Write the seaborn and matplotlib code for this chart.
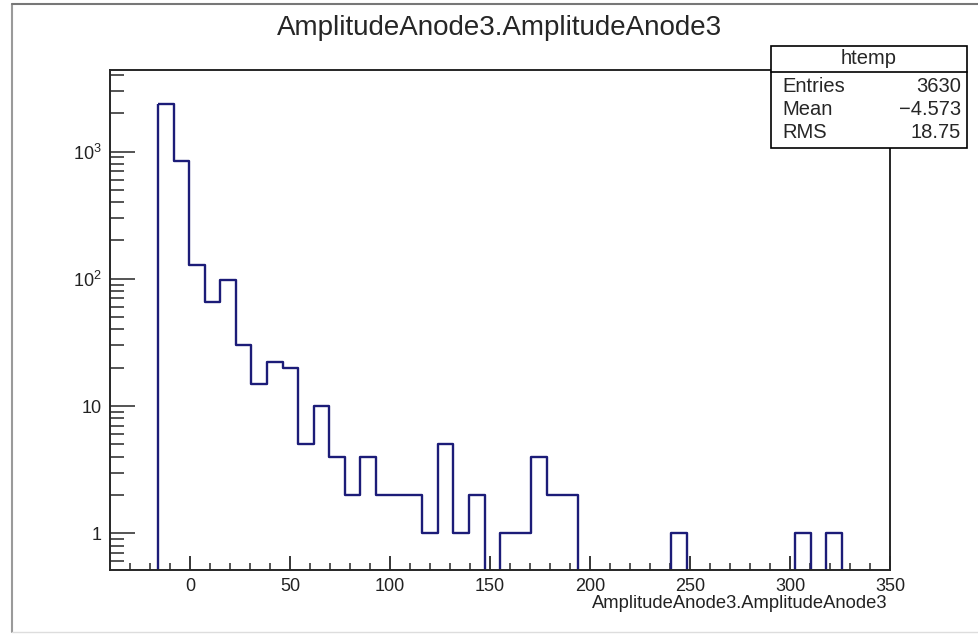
import numpy as np
import pandas as pd
import matplotlib
matplotlib.use('Agg')
import matplotlib.pyplot as plt
import seaborn as sns
from matplotlib.patches import Rectangle
from matplotlib.lines import Line2D
from matplotlib.ticker import FixedLocator, NullFormatter

bin_start = -15.9
bin_width = 7.77
counts = [2350, 849, 129, 66, 97, 30, 15, 22, 20, 5,
          10, 4, 2, 4, 2, 2, 2, 1, 5, 1,
          2, 0, 1, 1, 4, 2, 2, 0, 0, 0,
          0, 0, 0, 1, 0, 0, 0, 0, 0, 0,
          0, 1, 0, 1]
titulo = 'AmplitudeAnode3.AmplitudeAnode3'
stats_nomes = ['Entries', 'Mean', 'RMS']
stats_valores = ['3630', '\u22124.573', '18.75']
y_ticks = [1, 10, 100, 1000]
y_ticklabels = ['1', '10', '$10^{2}$', '$10^{3}$']
x_ticks = [0, 50, 100, 150, 200, 250, 300, 350]

edges = bin_start + bin_width * np.arange(len(counts) + 1)
df = pd.DataFrame({'x': (edges[:-1] + edges[1:]) / 2, 'n': counts})

# ── Estilo ───────────────────────────────────────────────────────────────────
sns.set_style('ticks')
plt.rcParams['font.family'] = ['Liberation Sans', 'DejaVu Sans']
plt.rcParams['mathtext.fontset'] = 'custom'
plt.rcParams['mathtext.rm'] = 'Liberation Sans'
plt.rcParams['mathtext.it'] = 'Liberation Sans'
plt.rcParams['mathtext.default'] = 'regular'

W, H = 979, 634
fig = plt.figure(figsize=(W / 100, H / 100), dpi=100)
ax = fig.add_axes([110 / W, 1 - 570 / H, 780 / W, 500 / H])

cor = '#1c1c78'
sns.histplot(data=df, x='x', weights='n', bins=edges.tolist(), element='step',
             fill=True, color=cor, facecolor='none', edgecolor=cor,
             linewidth=1.7, ax=ax)

ax.set_yscale('log')
ax.set_xlim(-40, 350)
ax.set_ylim(0.514, 4375)

# eixo x: ticks para dentro, estilo ROOT
ax.set_xticks(x_ticks)
ax.xaxis.set_minor_locator(FixedLocator(np.arange(-30, 350, 10)))
ax.tick_params(axis='x', which='major', direction='in', length=10, width=1.1,
               labelsize=13, pad=6, colors='black', labelcolor='#222222')
ax.tick_params(axis='x', which='minor', direction='in', length=5, width=1.1)

# eixo y: décadas
ax.yaxis.set_major_locator(FixedLocator(y_ticks))
ax.set_yticklabels(y_ticklabels)
minors = [m * 10 ** d for d in range(-1, 4) for m in range(2, 10)]
ax.yaxis.set_minor_locator(FixedLocator(minors))
ax.yaxis.set_minor_formatter(NullFormatter())
ax.tick_params(axis='y', which='major', direction='in', length=18, width=1.1,
               labelsize=13, pad=6, labelcolor='#222222')
ax.tick_params(axis='y', which='minor', direction='in', length=10, width=1.1)

for s in ax.spines.values():
    s.set_visible(True)
    s.set_linewidth(1.4)

ax.set_xlabel('')
ax.set_ylabel('')

fig.text(500 / W, 1 - 28 / H, titulo, ha='center', va='center', fontsize=20)
fig.text(887 / W, 1 - 604 / H, titulo, ha='right', va='center', fontsize=13.2,
         color='#222222')

# caixa de estatísticas
bx0, by0, bx1, by1 = 771, 46, 967, 148
fig.patches.append(Rectangle((bx0 / W, 1 - by1 / H), (bx1 - bx0) / W,
                             (by1 - by0) / H, transform=fig.transFigure,
                             facecolor='white', edgecolor='black',
                             linewidth=1.2, zorder=5))
fig.lines.append(Line2D([bx0 / W, bx1 / W], [1 - 72 / H, 1 - 72 / H],
                        transform=fig.transFigure, color='black',
                        linewidth=1.2, zorder=6))
fig.text((bx0 + bx1) / 2 / W, 1 - 59 / H, 'htemp', ha='center', va='center',
         fontsize=14.5, zorder=7)
for i, (nome, val) in enumerate(zip(stats_nomes, stats_valores)):
    yy = 1 - (86 + 23.5 * i) / H
    fig.text(782 / W, yy, nome, ha='left', va='center', fontsize=14.5, zorder=7)
    fig.text(961 / W, yy, val, ha='right', va='center', fontsize=14.5, zorder=7)

# moldura cinza da janela
fig.lines.append(Line2D([12 / W, 12 / W], [1 - 4 / H, 1 - 632 / H],
                        transform=fig.transFigure, color='#9a9a9a', linewidth=1.5))
fig.lines.append(Line2D([12 / W, 1], [1 - 4 / H, 1 - 4 / H],
                        transform=fig.transFigure, color='#777777', linewidth=1.5))
fig.lines.append(Line2D([12 / W, 1], [1 - 632 / H, 1 - 632 / H],
                        transform=fig.transFigure, color='#dddddd', linewidth=1.0))

plt.savefig('out.png', dpi=100)
plt.close()
